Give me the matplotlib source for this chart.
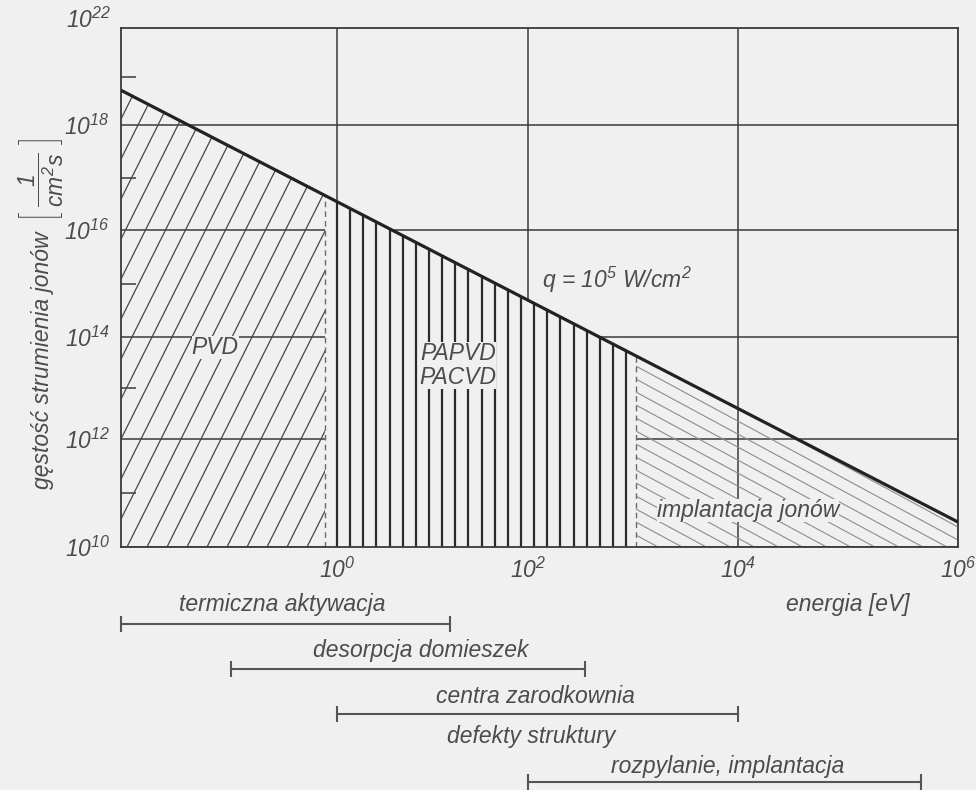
import numpy as np
import matplotlib
matplotlib.use("Agg")
import matplotlib.pyplot as plt
from matplotlib.patches import Polygon
from matplotlib.collections import LineCollection
from matplotlib.ticker import NullFormatter, NullLocator

plt.rcParams['font.family'] = ['Liberation Sans', 'DejaVu Sans']
plt.rcParams['font.style'] = 'italic'
plt.rcParams['mathtext.fontset'] = 'custom'
plt.rcParams['mathtext.rm'] = 'Liberation Sans:italic'
plt.rcParams['mathtext.it'] = 'Liberation Sans:italic'
plt.rcParams['mathtext.sf'] = 'Liberation Sans:italic'

# linia q = 10^5 W/cm^2, punkty koncowe
energy_line = [0.0055, 1.0e6]
flux_line = [5.2e18, 2.9e10]

# granice obszarow [eV]
pvd_end = 0.75
implant_start = 1070.0

region_labels = ["PVD", "PAPVD\nPACVD", "implantacja jonów"]
region_x = [0.053, 18.5, 12300.0]
region_y = [6.3e13, 2.8e13, 4.7e10]

# zakresy procesow pod osia
proc_names = ["termiczna aktywacja", "desorpcja domieszek",
              "centra zarodkownia", "rozpylanie, implantacja"]
proc_start = [0.0055, 0.078, 1.0, 100.0]
proc_end = [15.3, 349.0, 1.0e4, 4.6e5]
proc_text_x = [0.27, 7.6, 117.0, 8000.0]
extra_name = "defekty struktury"
extra_x = 107.0

xticks = [1e0, 1e2, 1e4, 1e6]
xtick_labels = [r"$10^{0}$", r"$10^{2}$", r"$10^{4}$", r"$10^{6}$"]
yticks = [1e10, 1e12, 1e14, 1e16, 1e18]
ytick_labels = [r"$10^{10}$", r"$10^{12}$", r"$10^{14}$", r"$10^{16}$", r"$10^{18}$"]
top_label = r"$10^{22}$"
yminor = [1e11, 1e13, 1e15, 1e17, 1e19]

bg = '#f0f0f0'
ink = '#3a3a3a'
txt = '#4c4c4c'
fs = 16.5
xmin, xmax = energy_line[0], energy_line[1]
ymin, ymax = 1e10, 1e20

XK = [-12.0, -2.26, 0.0, 2.0, 4.0, 6.0, 16.0]
XP = [-809.0, 121.0, 337.0, 528.0, 738.0, 958.0, 2058.0]
YK = [0.0, 10.0, 12.0, 14.0, 16.0, 18.0, 20.0, 30.0]
YP = [-540.0, 0.0, 108.0, 210.0, 317.0, 422.0, 519.0, 1004.0]


def fx(v):
    return np.interp(np.log10(np.clip(v, 1e-300, None)), XK, XP)


def ix(p):
    return 10 ** np.interp(p, XP, XK)


def fy(v):
    return np.interp(np.log10(np.clip(v, 1e-300, None)), YK, YP)


def iy(p):
    return 10 ** np.interp(p, YP, YK)


def curve(e):
    return iy(np.interp(fx(e), fx(np.array(energy_line)), fy(np.array(flux_line))))


fig = plt.figure(figsize=(9.76, 7.90), dpi=100, facecolor=bg)
W, H = 837, 519
ax = fig.add_axes([121 / 976, (790 - 547) / 790, W / 976, H / 790])
ax.set_facecolor(bg)
ax.set_xscale('function', functions=(fx, ix))
ax.set_yscale('function', functions=(fy, iy))
ax.set_xlim(xmin, xmax)
ax.set_ylim(ymin, ymax)

ax.set_xticks(xticks)
ax.set_xticklabels(xtick_labels)
ax.xaxis.set_minor_locator(NullLocator())
ax.set_yticks(yticks)
ax.set_yticklabels(ytick_labels)
ax.set_yticks(yminor, minor=True)
ax.yaxis.set_minor_formatter(NullFormatter())
ax.tick_params(which='major', length=0, labelsize=fs, labelcolor=txt)
ax.tick_params(axis='x', pad=8)
ax.tick_params(axis='y', pad=8)
ax.tick_params(which='minor', axis='y', direction='in', length=11, width=1.1, color=ink)
ax.set_axisbelow(True)
ax.grid(True, which='major', color=ink, lw=1.1)
for sp in ax.spines.values():
    sp.set_color(ink)
    sp.set_linewidth(1.3)

ax.text(-0.012, 1.015, top_label, transform=ax.transAxes, ha='right', va='center',
        fontsize=fs, color=txt)

# obszar PVD - kreskowanie ukosne
pvd_poly = Polygon([(xmin, ymin), (xmin, curve(xmin)), (pvd_end, curve(pvd_end)), (pvd_end, ymin)],
                   closed=True, facecolor='none', edgecolor='none')
ax.add_patch(pvd_poly)
segs = [[((x0 + 6) / W, 0), ((x0 + 6 + H / 2) / W, 1)] for x0 in np.arange(-280, 240, 20)]
lc = LineCollection(segs, transform=ax.transAxes, colors='#474747', linewidths=0.9, zorder=2)
lc.set_clip_path(pvd_poly)
ax.add_collection(lc)

# obszar PAPVD/PACVD - zakrywa siatke, pionowe kreski
cover = Polygon([(pvd_end, ymin), (pvd_end, curve(pvd_end)),
                 (implant_start, curve(implant_start)), (implant_start, ymin)],
                closed=True, facecolor=bg, edgecolor='none', zorder=1)
ax.add_patch(cover)
stripe_px = 216 + 13.14 * np.arange(23)
segs_v = [[(p / W, 0), (p / W, 1)] for p in stripe_px]
lcv = LineCollection(segs_v, transform=ax.transAxes, colors='#2b2b2b', linewidths=1.6, zorder=2)
lcv.set_clip_path(cover)
ax.add_collection(lcv)

# obszar implantacji - kreskowanie odwrotne
imp_poly = Polygon([(implant_start, ymin), (implant_start, curve(implant_start)),
                    (xmax, curve(xmax)), (xmax, ymin)],
                   closed=True, facecolor='none', edgecolor='none')
ax.add_patch(imp_poly)
k = 0.54
segs2 = [[(0, y0 / H), (1, (y0 - k * W) / H)] for y0 in np.arange(4, H + k * W, 13)]
lc2 = LineCollection(segs2, transform=ax.transAxes, colors='#8c8c8c', linewidths=0.8, zorder=2)
lc2.set_clip_path(imp_poly)
ax.add_collection(lc2)

# linie przerywane
bounds = np.array([pvd_end, implant_start])
ax.vlines(bounds, ymin, curve(bounds), colors='#6a6a6a', linewidth=1.0,
          linestyles=(0, (4, 3)), zorder=2)

# glowna linia
ax.plot(energy_line, flux_line, color='#222222', lw=2.3, zorder=3, solid_capstyle='butt')

pads = [7, 6.5, 2]
for lab, x, y, p in zip(region_labels, region_x, region_y, pads):
    ax.text(x, y, lab, ha='center', va='center', fontsize=fs, color=txt, zorder=4,
            linespacing=1.05, bbox=dict(boxstyle='square,pad=0', facecolor=bg, edgecolor='none',
                                        pad=p))

ax.text(136, 10 ** 15.07, r"$q$ = 10$^5$ W/cm$^2$", ha='left', va='center', fontsize=fs,
        color=txt, zorder=4)

# opis osi y
fig.text(43 / 976, 1 - 360 / 790, "gęstość strumienia jonów",
         rotation=90, ha='center', va='center', fontsize=fs, color=txt)
fig.text(41 / 976, 1 - 180 / 790, r"$\left[\ \dfrac{1}{cm^2s}\ \right]$",
         rotation=90, ha='center', va='center', fontsize=fs, color=txt)

# zakresy procesow
ax2 = fig.add_axes([121 / 976, 0, W / 976, (790 - 555) / 790])
ax2.set_xscale('function', functions=(fx, ix))
ax2.set_xlim(xmin, xmax)
ax2.set_ylim(790, 555)
ax2.axis('off')

bar_rows = [624, 669, 714, 782]
text_rows = [605, 651, 697, 767]
for name, s, e, tx, by, ty in zip(proc_names, proc_start, proc_end, proc_text_x, bar_rows, text_rows):
    ax2.plot([s, e], [by, by], color='#555555', lw=1.5, marker='|', markersize=11,
             mew=1.5, clip_on=False)
    ax2.text(tx, ty, name, ha='center', va='center', fontsize=fs, color=txt)
ax2.text(extra_x, 737, extra_name, ha='center', va='center', fontsize=fs, color=txt)
ax2.text(1e5, 605, "energia [eV]", ha='center', va='center', fontsize=fs, color=txt)

fig.savefig("out.png", dpi=100, facecolor=bg)
